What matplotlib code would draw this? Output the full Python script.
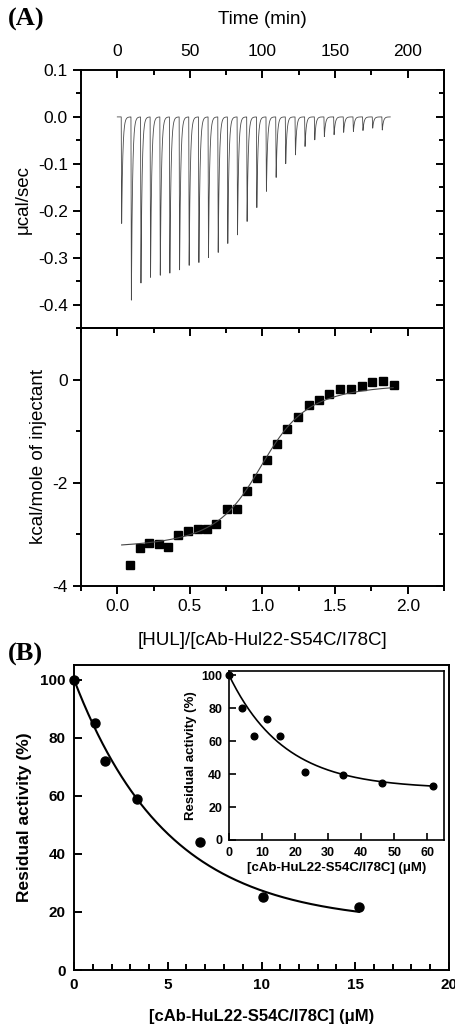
import numpy as np
import matplotlib.pyplot as plt
from matplotlib.ticker import MultipleLocator

plt.rcParams['font.family'] = ['Liberation Sans', 'DejaVu Sans']

# (A) raw ITC trace: injection times (min) and peak heights (ucal/sec)
inj_time = [2.7, 9.4, 16.0, 22.6, 29.3, 35.9, 42.6, 49.2, 55.9, 62.5, 69.2, 75.8, 82.5, 89.1,
            95.8, 102.4, 109.1, 115.7, 122.4, 129.0, 135.7, 142.3, 149.0, 155.6, 162.3, 168.9,
            175.6, 182.2]
inj_peak = [-0.228, -0.391, -0.354, -0.343, -0.338, -0.333, -0.327, -0.317, -0.311, -0.301,
            -0.289, -0.270, -0.252, -0.223, -0.194, -0.159, -0.129, -0.100, -0.081, -0.063,
            -0.049, -0.042, -0.038, -0.033, -0.031, -0.029, -0.024, -0.028]
run_end = 188.0

# (A) integrated heats vs molar ratio
molar_ratio = [0.089, 0.158, 0.221, 0.285, 0.352, 0.418, 0.484, 0.553, 0.619, 0.683, 0.753,
               0.822, 0.890, 0.959, 1.030, 1.098, 1.171, 1.244, 1.317, 1.388, 1.461, 1.532,
               1.607, 1.683, 1.756, 1.831, 1.906]
heat = [-3.60, -3.26, -3.17, -3.18, -3.25, -3.01, -2.93, -2.90, -2.89, -2.80, -2.50, -2.51,
        -2.16, -1.90, -1.55, -1.24, -0.95, -0.73, -0.50, -0.40, -0.28, -0.18, -0.18, -0.13,
        -0.05, -0.02, -0.10]
# one-site binding fit parameters
fit_n, fit_c, fit_dh, fit_offset = 1.02, 35.0, -3.25, -0.05
fit_range = (0.03, 1.9)

# (B) residual activity
conc = [0.0, 1.12, 1.67, 3.34, 6.74, 10.1, 15.2]
activity = [100, 85, 72, 59, 44, 25, 21.6]
b_plateau, b_k = 16.0, 0.2

# (B) inset
inset_conc = [0.0, 3.85, 7.7, 11.5, 15.4, 23.1, 34.6, 46.2, 61.7]
inset_activity = [100, 80, 63, 73.5, 63, 41, 39.4, 34.7, 32.5]
inset_plateau, inset_k = 31.0, 0.06

W, H = 456, 1026
fig = plt.figure(figsize=(W / 100, H / 100), dpi=100)


def box(l, t, r, b):
    return [l / W, 1 - b / H, (r - l) / W, (b - t) / H]


lw = 1.4

# ---------- (A) upper: thermogram ----------
ax1 = fig.add_axes(box(81, 70, 444, 328))
t = np.linspace(0, run_end, 40000)
trace = np.zeros_like(t)
for t0, d in zip(inj_time, inj_peak):
    dt = t - t0
    shape = np.where(dt < 0, 0, np.where(dt < 0.3, dt / 0.3, np.exp(-(dt - 0.3) / 0.8)))
    trace += d * shape
ax1.plot(t, trace, color='#4a4a4a', lw=0.6)
ax1.set_xlim(-25, 225)
ax1.set_ylim(-0.45, 0.1)
ax1.xaxis.tick_top()
ax1.xaxis.set_label_position('top')
ax1.xaxis.set_major_locator(MultipleLocator(50))
ax1.xaxis.set_minor_locator(MultipleLocator(25))
ax1.yaxis.set_major_locator(MultipleLocator(0.1))
ax1.yaxis.set_minor_locator(MultipleLocator(0.05))
ax1.yaxis.set_major_formatter(plt.FuncFormatter(lambda v, p: f'{v:.1f}'))
ax1.tick_params(axis='x', which='major', direction='in', length=6, width=lw, labelsize=12.5, pad=8)
ax1.tick_params(axis='x', which='minor', direction='in', length=3.5, width=lw)
ax1.tick_params(axis='y', which='major', direction='out', length=6, width=lw, labelsize=12.5)
ax1.tick_params(axis='y', which='minor', direction='out', length=3.5, width=lw)
ax1.set_xlabel('Time (min)', fontsize=13.5, labelpad=14)
ax1.set_ylabel('\u03bccal/sec', fontsize=13.5, labelpad=4)
r1 = ax1.secondary_yaxis('right')
r1.yaxis.set_major_locator(MultipleLocator(0.1))
r1.yaxis.set_minor_locator(MultipleLocator(0.05))
r1.tick_params(which='major', direction='in', length=6, width=lw, labelright=False)
r1.tick_params(which='minor', direction='in', length=3.5, width=lw)
r1.spines['right'].set_linewidth(lw)
for s in ax1.spines.values():
    s.set_linewidth(lw)

# ---------- (A) lower: integrated heats ----------
ax2 = fig.add_axes(box(81, 328, 444, 586))
ax2.plot(molar_ratio, heat, 's', color='black', ms=5.3)
xf = np.linspace(fit_range[0], fit_range[1], 400)
xr = xf / fit_n
r = 1.0 / fit_c
frac = 0.5 + (1 - xr - r) / (2 * np.sqrt((1 + xr + r) ** 2 - 4 * xr))
ax2.plot(xf, fit_offset + fit_dh * frac, color='#444444', lw=0.8)
ax2.set_xlim(-0.25, 2.25)
ax2.set_ylim(-4, 1)
ax2.xaxis.set_major_locator(MultipleLocator(0.5))
ax2.xaxis.set_minor_locator(MultipleLocator(0.25))
ax2.yaxis.set_major_locator(MultipleLocator(2))
ax2.yaxis.set_minor_locator(MultipleLocator(1))
ax2.xaxis.set_major_formatter(plt.FuncFormatter(lambda v, p: f'{v:.1f}'))
ax2.yaxis.set_major_formatter(plt.FuncFormatter(lambda v, p: f'{v:.0f}'))
ax2.tick_params(which='major', direction='out', length=6, width=lw, labelsize=12.5)
ax2.tick_params(which='minor', direction='out', length=3.5, width=lw)
ax2.set_xlabel('[HUL]/[cAb-Hul22-S54C/I78C]', fontsize=13.5, labelpad=13)
ax2.set_ylabel('kcal/mole of injectant', fontsize=13.5, labelpad=4)
for side in ['top', 'right']:
    sec = ax2.secondary_xaxis('top') if side == 'top' else ax2.secondary_yaxis('right')
    ax_ = sec.xaxis if side == 'top' else sec.yaxis
    ax_.set_major_locator(MultipleLocator(0.5 if side == 'top' else 2))
    ax_.set_minor_locator(MultipleLocator(0.25 if side == 'top' else 1))
    sec.tick_params(which='major', direction='in', length=6, width=lw,
                    labeltop=False, labelright=False)
    sec.tick_params(which='minor', direction='in', length=3.5, width=lw)
    sec.spines[side].set_linewidth(lw)
for s in ax2.spines.values():
    s.set_linewidth(lw)

# ---------- (B) main ----------
ax3 = fig.add_axes(box(74, 665, 449, 970))
xb = np.linspace(0, 15.2, 300)
ax3.plot(xb, b_plateau + (100 - b_plateau) * np.exp(-b_k * xb), color='black', lw=1.5)
ax3.plot(conc, activity, 'o', color='black', ms=6.5, clip_on=False, zorder=5)
ax3.set_xlim(0, 20)
ax3.set_ylim(0, 105)
ax3.xaxis.set_major_locator(MultipleLocator(5))
ax3.xaxis.set_minor_locator(MultipleLocator(1))
ax3.yaxis.set_major_locator(MultipleLocator(20))
ax3.tick_params(top=False, right=False, which='both', direction='in', width=lw)
ax3.tick_params(which='major', length=6, labelsize=11, pad=6)
ax3.tick_params(which='minor', length=4)
for lab in ax3.get_xticklabels() + ax3.get_yticklabels():
    lab.set_fontweight('bold')
ax3.set_xlabel('[cAb-HuL22-S54C/I78C] (\u03bcM)', fontsize=12, fontweight='bold', labelpad=12)
ax3.set_ylabel('Residual activity (%)', fontsize=12.5, fontweight='bold', labelpad=6)
for s in ax3.spines.values():
    s.set_linewidth(lw)

# ---------- (B) inset ----------
ax4 = fig.add_axes(box(229, 671, 444, 840))
xi = np.linspace(0, 61.7, 300)
ax4.plot(xi, inset_plateau + (100 - inset_plateau) * np.exp(-inset_k * xi), color='black', lw=1.2)
ax4.plot(inset_conc, inset_activity, 'o', color='black', ms=4.8, clip_on=False, zorder=5)
ax4.set_xlim(0, 65)
ax4.set_ylim(0, 102.5)
ax4.xaxis.set_major_locator(MultipleLocator(10))
ax4.yaxis.set_major_locator(MultipleLocator(20))
ax4.tick_params(top=False, right=False, direction='in', length=5, width=1.2, labelsize=9, pad=5)
for lab in ax4.get_xticklabels() + ax4.get_yticklabels():
    lab.set_fontweight('bold')
ax4.set_xlabel('[cAb-HuL22-S54C/I78C] (\u03bcM)', fontsize=9.5, fontweight='bold', labelpad=2)
ax4.set_ylabel('Residual activity (%)', fontsize=9.5, fontweight='bold', labelpad=3)
for s in ax4.spines.values():
    s.set_linewidth(1.2)

fig.text(8 / W, 1 - 8 / H, '(A)', family='Liberation Serif', fontweight='bold',
         fontsize=19, va='top', ha='left')
fig.text(8 / W, 1 - 643 / H, '(B)', family='Liberation Serif', fontweight='bold',
         fontsize=19, va='top', ha='left')

fig.savefig('out.png', dpi=100)
